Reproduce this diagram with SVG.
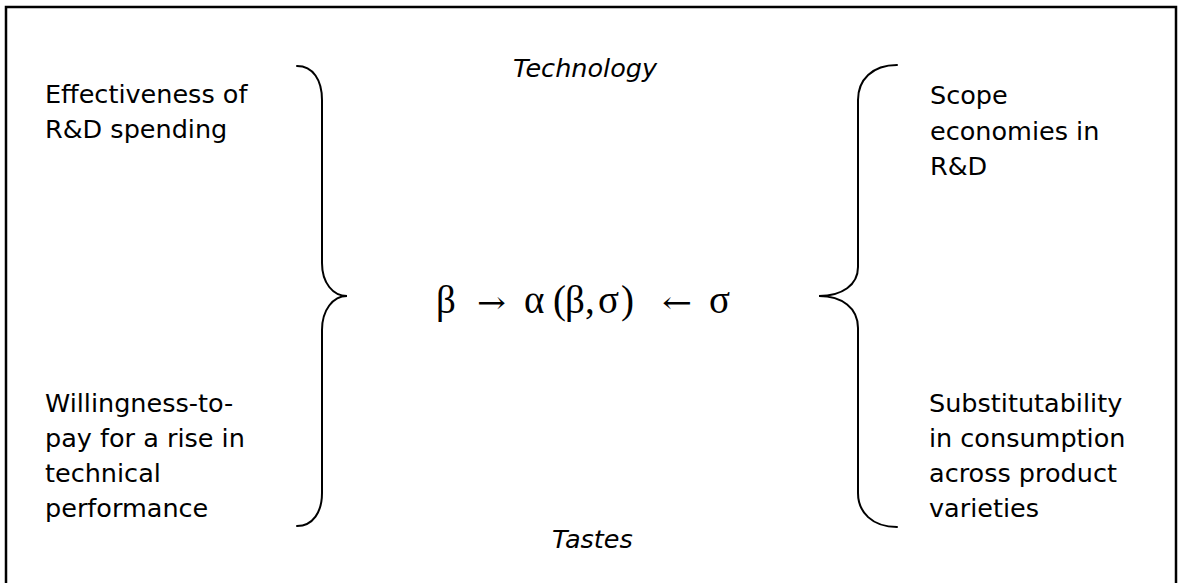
<svg xmlns="http://www.w3.org/2000/svg" width="1178" height="583" viewBox="0 0 1178 583">
  <style>
    .lbl { font-family: "DejaVu Sans", Verdana, sans-serif; font-size: 25.5px; fill: #000; }
    .ital { font-family: "DejaVu Sans", Verdana, sans-serif; font-size: 25.5px; font-style: italic; fill: #000; }
    .math { font-family: "Liberation Serif", "DejaVu Serif", serif; font-size: 39px; fill: #000; }
    .arrow { font-family: "DejaVu Serif", "Liberation Serif", serif; font-size: 30px; fill: #000; }
    .brace { fill: none; stroke: #000; stroke-width: 2; stroke-linecap: round; }
  </style>

  <rect x="0" y="0" width="1178" height="583" fill="#fff"/>
  <!-- outer frame -->
  <rect x="6" y="7" width="1170" height="590" fill="none" stroke="#000" stroke-width="2.5"/>

  <g id="technology">
    <text class="ital" x="513" y="77">Technology</text>
  </g>
  <g id="tastes">
    <text class="ital" x="552" y="548">Tastes</text>
  </g>

  <g id="rd-effectiveness">
    <text class="lbl" x="45" y="103">Effectiveness of</text>
    <text class="lbl" x="45" y="138">R&amp;D spending</text>
  </g>

  <g id="willingness-to-pay">
    <text class="lbl" x="45" y="412">Willingness-to-</text>
    <text class="lbl" x="45" y="447">pay for a rise in</text>
    <text class="lbl" x="45" y="482">technical</text>
    <text class="lbl" x="45" y="517">performance</text>
  </g>

  <g id="scope-economies">
    <text class="lbl" x="930" y="104">Scope</text>
    <text class="lbl" x="930" y="140">economies in</text>
    <text class="lbl" x="930" y="175">R&amp;D</text>
  </g>

  <g id="substitutability">
    <text class="lbl" x="929" y="412">Substitutability</text>
    <text class="lbl" x="929" y="447">in consumption</text>
    <text class="lbl" x="929" y="482">across product</text>
    <text class="lbl" x="929" y="517">varieties</text>
  </g>

  <!-- central relation: beta -> alpha(beta, sigma) <- sigma -->
  <g id="alpha-relation">
    <text class="math" x="436" y="313">β</text>
    <text class="arrow" x="477" y="313" textLength="29" lengthAdjust="spacingAndGlyphs">→</text>
    <text class="math" x="524" y="313">α</text>
    <text class="math" x="553" y="313">(</text>
    <text class="math" x="565" y="313">β</text>
    <text class="math" x="585" y="313">,</text>
    <text class="math" x="598" y="313">σ</text>
    <text class="math" x="621" y="313">)</text>
    <text class="arrow" x="662" y="313" textLength="30" lengthAdjust="spacingAndGlyphs">←</text>
    <text class="math" x="709" y="313">σ</text>
  </g>

  <g id="connectors">
    <path class="brace" d="M297,66 C313,66 322,80 322,100 L322,263 C322,283 333,296 347,296 C333,296 322,310 322,330 L322,493 C322,512 313,526 297,526"/>
    <path class="brace" d="M897,65 C872,65 858,80 858,100 L858,267 C858,285 842,296 819,296 C842,296 858,308 858,328 L858,493 C858,512 872,527 897,527"/>
  </g>
</svg>
